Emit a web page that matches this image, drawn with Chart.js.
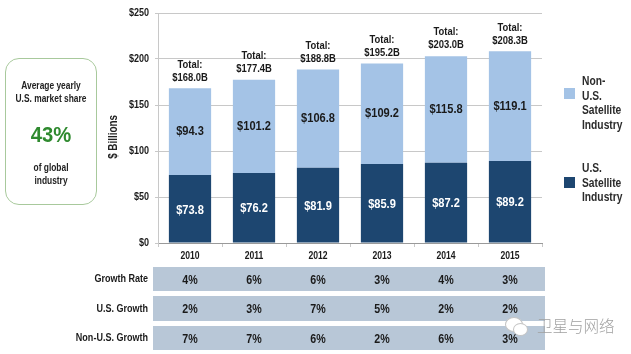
<!DOCTYPE html>
<html><head><meta charset="utf-8">
<script src="https://cdn.jsdelivr.net/npm/chart.js@4.4.0/dist/chart.umd.min.js"></script>
<style>
html,body{margin:0;padding:0;background:#fff;}
#wrap{position:relative;width:631px;height:354px;font-family:"Liberation Sans",Arial,sans-serif;font-weight:bold;color:#222;}
canvas{position:absolute;left:0;top:0;}
#box{position:absolute;left:5px;top:58px;width:90px;height:145px;border:1.5px solid #a8c99c;border-radius:14px;text-align:center;font-size:10.5px;line-height:13px;}
#box .a,#box .b,#box .p{position:absolute;left:-20px;right:-20px;transform:scaleX(0.8);}
#box .a{top:20px;}
#box .p{top:62px;font-size:22px;line-height:28px;color:#2f8a2f;transform:scaleX(0.92);}
#box .b{top:102px;}
#ylab{position:absolute;left:83px;top:130px;width:60px;text-align:center;font-size:12px;transform:rotate(-90deg) scaleX(0.82);}
.leg{position:absolute;left:582px;font-size:12.5px;line-height:14.5px;color:#2b2b2b;transform:scaleX(0.82);transform-origin:left top;}
.sq{position:absolute;left:564px;width:11px;height:11px;}
#wm{position:absolute;left:537px;top:314px;font-family:"Noto Sans CJK SC",sans-serif;font-weight:300;font-size:15.5px;color:#a0a0a0;}
#ic1{position:absolute;left:505px;top:317px;width:16px;height:13px;border:1px solid #c4c4c4;border-radius:50%;background:#fff;}
#ic2{position:absolute;left:513px;top:323px;width:13px;height:11px;border:1px solid #c4c4c4;border-radius:50%;background:#fff;}
</style></head>
<body><div id="wrap">
<canvas id="c" width="631" height="354"></canvas>
<div id="box"><div class="a">Average yearly<br>U.S. market share</div><div class="p">43%</div><div class="b">of global<br>industry</div></div>
<div id="ylab">$ Billions</div>
<div class="sq" style="top:88px;background:#a4c3e6"></div>
<div class="leg" style="top:74px">Non-U.S.<br>Satellite<br>Industry</div>
<div class="sq" style="top:177px;background:#1d4670"></div>
<div class="leg" style="top:161px">U.S.<br>Satellite<br>Industry</div>
<div id="ic1"></div><div id="ic2"></div>
<div id="wm">卫星与网络</div>
</div>
<script>
const years = ['2010','2011','2012','2013','2014','2015'];
const usValues = [73.8, 76.2, 81.9, 85.9, 87.2, 89.2];
const nonUsValues = [94.3, 101.2, 106.8, 109.2, 115.8, 119.1];
const totals = ['$168.0B','$177.4B','$188.8B','$195.2B','$203.0B','$208.3B'];
const yTicks = [0, 50, 100, 150, 200, 250];
const rowLabels = ['Growth Rate','U.S. Growth','Non-U.S. Growth'];
const growthRate = ['4%','6%','6%','3%','4%','3%'];
const usGrowth = ['2%','3%','7%','5%','2%','2%'];
const nonUsGrowth = ['7%','7%','6%','2%','6%','3%'];

const DARK = '#1d4670', LIGHT = '#a4c3e6', TABLE = '#b8c7d7';
const FONT = '"Liberation Sans", Arial, sans-serif';
const SX = 0.82;

function ctext(ctx, t, x, y, size, align, color) {
  ctx.save();
  ctx.font = 'bold ' + size + 'px ' + FONT;
  ctx.fillStyle = color;
  ctx.textAlign = align;
  ctx.textBaseline = 'middle';
  ctx.translate(x, y);
  ctx.scale(SX, 1);
  ctx.fillText(t, 0, 0);
  ctx.restore();
}

const labelPlugin = {
  id: 'labels',
  afterDatasetsDraw(chart) {
    const ctx = chart.ctx;
    const xs = chart.scales.x, ys = chart.scales.y;
    const m0 = chart.getDatasetMeta(0), m1 = chart.getDatasetMeta(1);
    m0.data.forEach((b, i) => {
      ctext(ctx, '$' + usValues[i].toFixed(1), b.x, (b.y + b.base) / 2 + 1, 13.5, 'center', '#ffffff');
    });
    m1.data.forEach((b, i) => {
      ctext(ctx, '$' + nonUsValues[i].toFixed(1), b.x, (b.y + b.base) / 2, 13.5, 'center', '#1a1a1a');
      ctext(ctx, 'Total:', b.x, b.y - 24, 11.5, 'center', '#1a1a1a');
      ctext(ctx, totals[i], b.x, b.y - 11, 11.5, 'center', '#1a1a1a');
    });
    // axis labels
    yTicks.forEach(v => ctext(ctx, '$' + v, 149, ys.getPixelForValue(v), 11, 'right', '#1a1a1a'));
    years.forEach((y, i) => ctext(ctx, y, xs.getPixelForValue(i), 256, 10.5, 'center', '#1a1a1a'));
    // table
    const rows = [growthRate, usGrowth, nonUsGrowth];
    const tops = [267, 296, 326], hs = [24, 25, 24];
    const left = 153, right = 545;
    rows.forEach((r, k) => {
      ctx.fillStyle = TABLE;
      ctx.fillRect(left, tops[k], right - left, hs[k]);
      ctext(ctx, rowLabels[k], 148, tops[k] + hs[k] / 2, 11, 'right', '#1a1a1a');
      r.forEach((v, i) => {
        ctext(ctx, v, xs.getPixelForValue(i), tops[k] + hs[k] / 2 + 1, 13, 'center', '#1a1a1a');
      });
    });
  }
};

new Chart(document.getElementById('c'), {
  type: 'bar',
  data: {
    labels: years,
    datasets: [
      { label: 'U.S. Satellite Industry', data: usValues, backgroundColor: DARK, barPercentage: 0.66, categoryPercentage: 1 },
      { label: 'Non-U.S. Satellite Industry', data: nonUsValues, backgroundColor: LIGHT, barPercentage: 0.66, categoryPercentage: 1 }
    ]
  },
  options: {
    responsive: false,
    animation: false,
    layout: { padding: { left: 0, right: 89, top: 13, bottom: 0 } },
    plugins: { legend: { display: false }, tooltip: { enabled: false } },
    scales: {
      x: {
        stacked: true,
        afterFit(s) { s.height = 111; },
        grid: { display: true, drawOnChartArea: false, offset: true, tickLength: 4, color: '#c8c8c8' },
        border: { display: true, color: '#9a9a9a' },
        ticks: { display: false }
      },
      y: {
        stacked: true,
        min: 0, max: 250,
        afterFit(s) { s.width = 158; },
        afterBuildTicks(s) { s.ticks = yTicks.map(v => ({ value: v })); },
        grid: { color: '#c8c8c8', tickLength: 3 },
        border: { display: true, color: '#c8c8c8' },
        ticks: { display: false }
      }
    }
  },
  plugins: [labelPlugin]
});
</script>
</body></html>
